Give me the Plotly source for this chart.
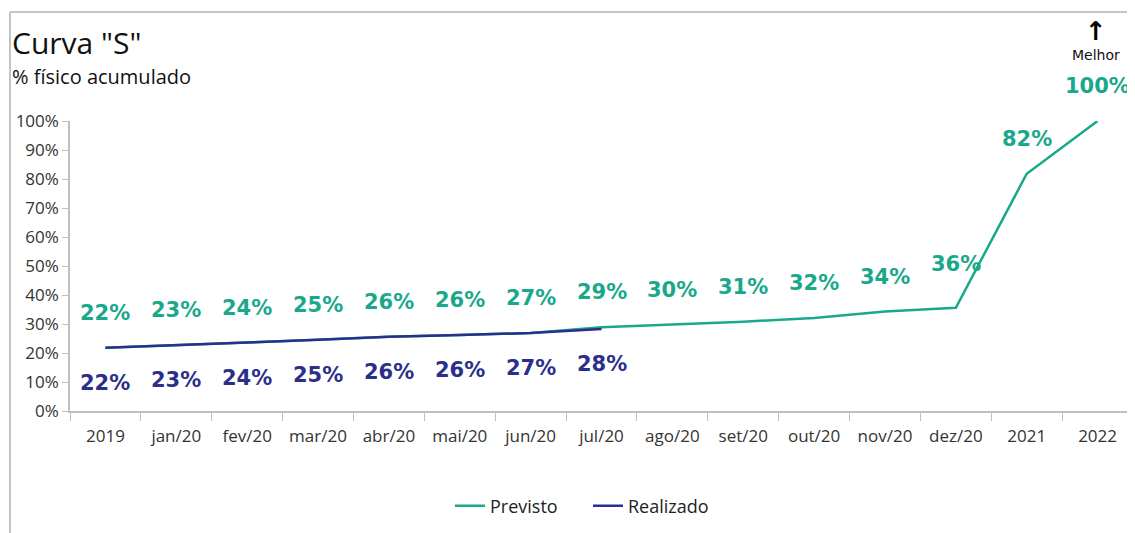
import plotly.graph_objects as go

# Categorias e valores (% físico acumulado)
categorias = ['2019', 'jan/20', 'fev/20', 'mar/20', 'abr/20', 'mai/20', 'jun/20', 'jul/20',
              'ago/20', 'set/20', 'out/20', 'nov/20', 'dez/20', '2021', '2022']
previsto = [21.8, 22.6, 23.6, 24.6, 25.6, 26.2, 26.9, 28.9, 29.8, 30.8, 32.1, 34.3, 35.6, 81.8, 100]
realizado = [21.8, 22.6, 23.6, 24.6, 25.6, 26.2, 26.9, 28.3]
y_ticks = [0, 10, 20, 30, 40, 50, 60, 70, 80, 90, 100]

cor_previsto = '#1aa88b'
cor_realizado = '#2b2f8c'

idx = list(range(len(categorias)))

fig = go.Figure()
fig.add_trace(go.Scatter(x=idx, y=previsto, name='Previsto', mode='lines',
                         line=dict(color=cor_previsto, width=2.5)))
fig.add_trace(go.Scatter(x=idx[:len(realizado)], y=realizado, name='Realizado', mode='lines',
                         line=dict(color=cor_realizado, width=2.5)))

# rótulos de dados
annotations = []
for i, v in enumerate(previsto):
    annotations.append(dict(x=i, y=v, text=f'{v:.0f}%', showarrow=False,
                            yshift=44 if categorias[i] == 'dez/20' else 35,
                            font=dict(family='DejaVu Sans', size=21, color=cor_previsto, weight='bold')))
for i, v in enumerate(realizado):
    annotations.append(dict(x=i, y=v, text=f'{v:.0f}%', showarrow=False, yshift=-35,
                            font=dict(family='DejaVu Sans', size=21, color=cor_realizado, weight='bold')))

# a página tem margem de 8px; posições abaixo em pixels da janela
OFF = 8
W, H = 1135 - OFF, 533 - OFF
L, R = 70 - OFF, 2
T, B = 121 - OFF, H - (411 - OFF)
pw, ph = W - L - R, H - T - B
def px(x):
    return (x - OFF - L) / pw
def py(y):
    return (H - B - (y - OFF)) / ph

# títulos e indicador "Melhor"
annotations += [
    dict(text='Curva "S"', xref='paper', yref='paper', x=px(10), y=py(42), showarrow=False,
         xanchor='left', yanchor='middle', font=dict(size=30, color='#111111')),
    dict(text='% físico acumulado', xref='paper', yref='paper', x=px(10), y=py(76), showarrow=False,
         xanchor='left', yanchor='middle', font=dict(size=20, color='#111111')),
    dict(text='<b>↑</b>', xref='paper', yref='paper', x=px(1096), y=py(31), showarrow=False,
         xanchor='center', yanchor='middle',
         font=dict(family='DejaVu Sans', size=26, color='#000000')),
    dict(text='Melhor', xref='paper', yref='paper', x=px(1096), y=py(55), showarrow=False,
         xanchor='center', yanchor='middle',
         font=dict(family='DejaVu Sans', size=14, color='#111111')),
]

fig.update_layout(
    width=W, height=H,
    margin=dict(l=L, r=R, t=T, b=B),
    paper_bgcolor='white', plot_bgcolor='white',
    font=dict(family='Open Sans', color='#333333'),
    showlegend=True,
    legend=dict(orientation='h', x=px(588), y=py(506), xanchor='center', yanchor='middle',
                font=dict(size=18, color='#222222'), entrywidth=93),
    annotations=annotations,
    shapes=[
        dict(type='line', xref='paper', yref='paper', x0=px(10), x1=px(1140), y0=py(12), y1=py(12),
             line=dict(color='#b0b0b0', width=1.5)),
        dict(type='line', xref='paper', yref='paper', x0=px(10), x1=px(10), y0=py(12), y1=py(540),
             line=dict(color='#b0b0b0', width=1.5)),
    ],
)
fig.update_xaxes(range=[-0.5, len(categorias) - 0.5], tickvals=idx, ticktext=categorias,
                 showline=True, linecolor='#bfbfbf', linewidth=1.5, ticks='',
                 tickfont=dict(size=17, color='#333333'), showgrid=False, zeroline=False,
                 tickangle=0, ticklabelstandoff=9,
                 minor=dict(tickvals=[i - 0.5 for i in idx] + [len(idx) - 0.5], ticks='outside',
                            ticklen=8, tickcolor='#bfbfbf', showgrid=False))
fig.update_yaxes(range=[0, 100], tickvals=y_ticks, ticktext=[f'{t}%' for t in y_ticks],
                 showline=True, linecolor='#bfbfbf', linewidth=1.5, ticks='outside', ticklen=6,
                 tickcolor='#bfbfbf', tickfont=dict(size=17, color='#333333'),
                 showgrid=False, zeroline=False)

fig.write_html("out.html")
